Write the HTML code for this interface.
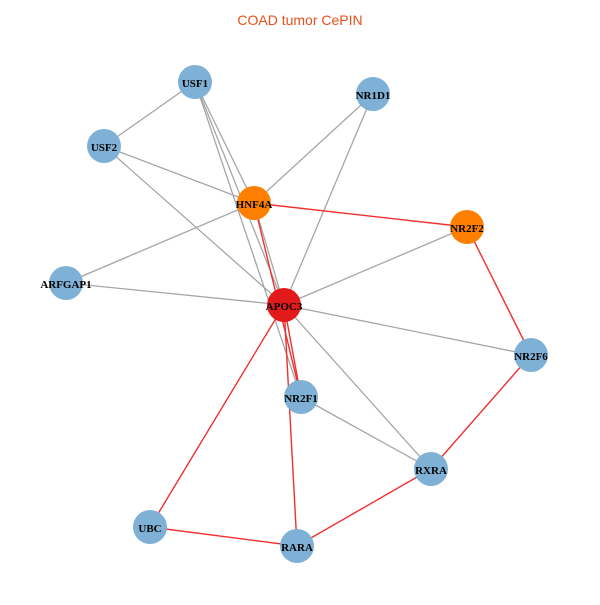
<!DOCTYPE html>
<html><head><style>body{margin:0;background:#fff}</style></head><body>
<svg width="600" height="600" xmlns="http://www.w3.org/2000/svg">
<text x="300" y="25" text-anchor="middle" font-family="Liberation Sans, sans-serif" font-size="14" fill="#e8501a">COAD tumor CePIN</text>
<g stroke="#a6a6a6" stroke-width="1.3">
<line x1="195" y1="82" x2="104" y2="146"/>
<line x1="195" y1="82" x2="254" y2="203"/>
<line x1="195" y1="82" x2="284" y2="305"/>
<line x1="195" y1="82" x2="301" y2="397"/>
<line x1="104" y1="146" x2="254" y2="203"/>
<line x1="104" y1="146" x2="284" y2="305"/>
<line x1="373" y1="94" x2="254" y2="203"/>
<line x1="373" y1="94" x2="284" y2="305"/>
<line x1="66" y1="283" x2="254" y2="203"/>
<line x1="66" y1="283" x2="284" y2="305"/>
<line x1="467" y1="227" x2="284" y2="305"/>
<line x1="531" y1="355" x2="284" y2="305"/>
<line x1="284" y1="305" x2="431" y2="469"/>
<line x1="301" y1="397" x2="431" y2="469"/>
<line x1="254" y1="203" x2="284" y2="305"/>
</g>
<g stroke="#f03030" stroke-width="1.4">
<line x1="254" y1="203" x2="467" y2="227"/>
<line x1="254" y1="203" x2="301" y2="397"/>
<line x1="467" y1="227" x2="531" y2="355"/>
<line x1="531" y1="355" x2="431" y2="469"/>
<line x1="431" y1="469" x2="297" y2="546"/>
<line x1="297" y1="546" x2="150" y2="527"/>
<line x1="150" y1="527" x2="284" y2="305"/>
<line x1="284" y1="305" x2="297" y2="546"/>
<line x1="284" y1="305" x2="301" y2="397"/>
</g>
<g font-family="Liberation Serif, serif" font-size="11" font-weight="bold" text-anchor="middle" fill="#000">
<circle cx="195" cy="82" r="17" fill="#7fb0d5"/><text x="195" y="87">USF1</text>
<circle cx="373" cy="94" r="17" fill="#7fb0d5"/><text x="373" y="99">NR1D1</text>
<circle cx="104" cy="146" r="17" fill="#7fb0d5"/><text x="104" y="151">USF2</text>
<circle cx="254" cy="203" r="17" fill="#ff8000"/><text x="254" y="208">HNF4A</text>
<circle cx="467" cy="227" r="17" fill="#ff8000"/><text x="467" y="232">NR2F2</text>
<circle cx="66" cy="283" r="17" fill="#7fb0d5"/><text x="66" y="288">ARFGAP1</text>
<circle cx="284" cy="305" r="17" fill="#e31a1c"/><text x="284" y="310">APOC3</text>
<circle cx="531" cy="355" r="17" fill="#7fb0d5"/><text x="531" y="360">NR2F6</text>
<circle cx="301" cy="397" r="17" fill="#7fb0d5"/><text x="301" y="402">NR2F1</text>
<circle cx="431" cy="469" r="17" fill="#7fb0d5"/><text x="431" y="474">RXRA</text>
<circle cx="150" cy="527" r="17" fill="#7fb0d5"/><text x="150" y="532">UBC</text>
<circle cx="297" cy="546" r="17" fill="#7fb0d5"/><text x="297" y="551">RARA</text>
</g>
</svg>
</body></html>
